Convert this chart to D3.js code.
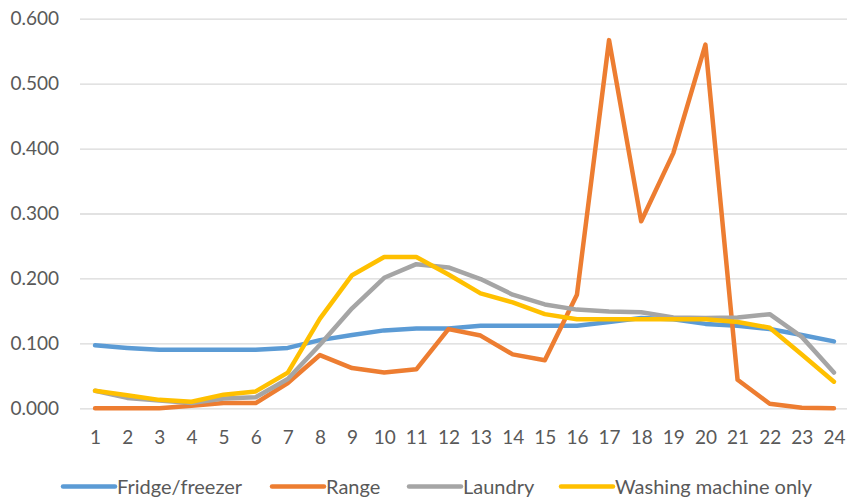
<!DOCTYPE html>
<html>
<head>
<meta charset="utf-8">
<script src="https://cdn.jsdelivr.net/npm/d3@7"></script>
<style>
  html, body { margin: 0; padding: 0; background: #fff; }
  svg { display: block; }
  text { font-family: Lato, "Liberation Sans", sans-serif; fill: #595959; }
</style>
</head>
<body>
<svg id="chart" width="847" height="501"></svg>
<script>
// Hour of day (category axis)
const hours = ["1","2","3","4","5","6","7","8","9","10","11","12",
               "13","14","15","16","17","18","19","20","21","22","23","24"];

// Value-axis tick labels
const yTicks = [0, 0.1, 0.2, 0.3, 0.4, 0.5, 0.6];

// Hourly load profiles per appliance group
const fridgeFreezer = [0.097, 0.093, 0.090, 0.090, 0.090, 0.090, 0.093, 0.105, 0.113, 0.120, 0.123, 0.123,
                       0.127, 0.127, 0.127, 0.127, 0.133, 0.139, 0.137, 0.130, 0.127, 0.122, 0.113, 0.103];
const range         = [0.000, 0.000, 0.000, 0.004, 0.008, 0.008, 0.039, 0.082, 0.062, 0.055, 0.060, 0.122,
                       0.112, 0.083, 0.074, 0.175, 0.567, 0.288, 0.393, 0.560, 0.044, 0.007, 0.001, 0.000];
const laundry       = [0.027, 0.016, 0.012, 0.008, 0.015, 0.017, 0.045, 0.098, 0.154, 0.201, 0.222, 0.217,
                       0.199, 0.175, 0.160, 0.152, 0.149, 0.148, 0.140, 0.139, 0.140, 0.145, 0.110, 0.055];
const washingOnly   = [0.027, 0.020, 0.013, 0.010, 0.021, 0.026, 0.055, 0.138, 0.205, 0.233, 0.233, 0.206,
                       0.177, 0.163, 0.145, 0.137, 0.137, 0.137, 0.137, 0.137, 0.133, 0.124, 0.083, 0.041];

const seriesNames = ["Fridge/freezer", "Range", "Laundry", "Washing machine only"];
const seriesData  = [fridgeFreezer, range, laundry, washingOnly];
const colors      = ["#5B9BD5", "#ED7D31", "#A5A5A5", "#FFC000"];

const svg = d3.select("#chart");
const plot = { left: 79, right: 850, top: 18.7, bottom: 408.3 };

const x = d3.scalePoint().domain(hours).range([plot.left, plot.right]).padding(0.5);
const y = d3.scaleLinear().domain([0, 0.6]).range([plot.bottom, plot.top]);

// Horizontal gridlines with value labels
const yAxis = svg.append("g")
  .attr("transform", `translate(${plot.left + 1},0)`)
  .call(d3.axisLeft(y).tickValues(yTicks).tickFormat(d3.format(".3f"))
    .tickSize(-(847 - plot.left - 1)).tickPadding(21));
yAxis.select(".domain").remove();
yAxis.selectAll(".tick line").attr("stroke", "#D9D9D9").attr("stroke-width", 1.3);
yAxis.selectAll(".tick text").attr("font-size", 19).style("font-family", "Lato, sans-serif").attr("fill", "#595959");

// Hour labels
const xAxis = svg.append("g")
  .attr("transform", `translate(0,${plot.bottom})`)
  .call(d3.axisBottom(x).tickSize(0).tickPadding(22));
xAxis.select(".domain").remove();
xAxis.selectAll(".tick text").attr("font-size", 19).style("font-family", "Lato, sans-serif").attr("fill", "#595959");

// Series lines
const line = d3.line()
  .x((d, i) => x(hours[i]))
  .y(d => y(d));

svg.append("g").selectAll("path")
  .data(seriesData)
  .join("path")
  .attr("d", d => line(d))
  .attr("fill", "none")
  .attr("stroke", (d, i) => colors[i])
  .attr("stroke-width", 4.5)
  .attr("stroke-linejoin", "round")
  .attr("stroke-linecap", "round");

// Legend
const legendX = [63, 272, 409, 561];
const legendY = 486.5;
const legend = svg.append("g").selectAll("g")
  .data(seriesNames)
  .join("g")
  .attr("transform", (d, i) => `translate(${legendX[i]},${legendY})`);
legend.append("line")
  .attr("x1", 0).attr("x2", 52)
  .attr("stroke", (d, i) => colors[i])
  .attr("stroke-width", 4.5)
  .attr("stroke-linecap", "round");
legend.append("text")
  .attr("x", 54)
  .attr("dy", "0.35em")
  .attr("font-size", 20)
  .text(d => d);
</script>
</body>
</html>
